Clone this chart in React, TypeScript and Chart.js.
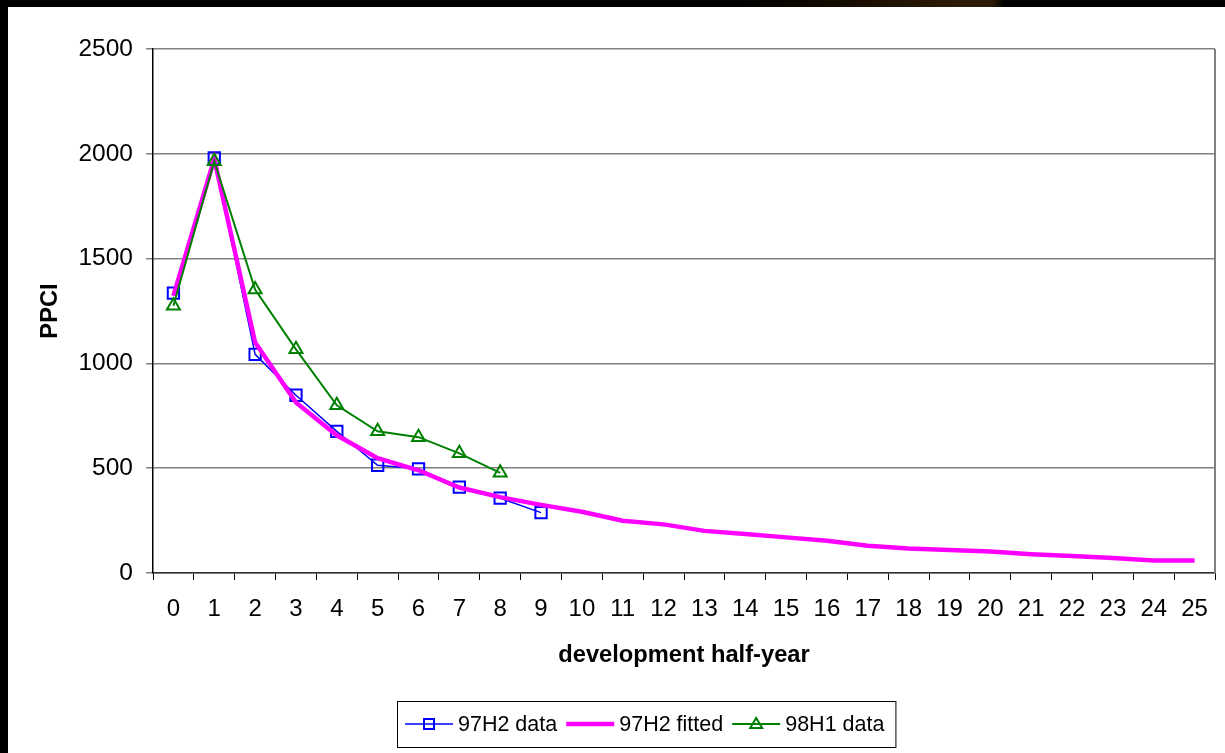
import React, { useEffect, useRef } from 'react';
import { Chart, registerables } from 'chart.js';

Chart.register(...registerables);

const categories = ['0', '1', '2', '3', '4', '5', '6', '7', '8', '9', '10', '11', '12', '13', '14', '15', '16', '17', '18', '19', '20', '21', '22', '23', '24', '25'];
const data97H2 = [1335, 1980, 1043, 848, 676, 514, 497, 410, 357, 288];
const fitted97H2 = [1322, 1975, 1100, 814, 657, 548, 490, 408, 362, 325, 292, 249, 232, 201, 186, 170, 154, 130, 117, 110, 103, 90, 81, 71, 60, 60];
const data98H1 = [1275, 1965, 1352, 1067, 800, 676, 648, 571, 478];
const seriesLabels = ['97H2 data', '97H2 fitted', '98H1 data'];
const yMin = 0;
const yMax = 2500;
const yStep = 500;

const FONT = '"Liberation Sans", Arial, sans-serif';

const drawMarker = (ctx: CanvasRenderingContext2D, style: string, x: number, y: number, color: string) => {
  ctx.save();
  ctx.strokeStyle = color;
  ctx.lineWidth = 2;
  ctx.beginPath();
  if (style === 'rect') {
    ctx.rect(x - 5, y - 5, 10, 10);
  } else if (style === 'triangle') {
    ctx.moveTo(x, y - 6);
    ctx.lineTo(x + 6, y + 4);
    ctx.lineTo(x - 6, y + 4);
    ctx.closePath();
  }
  ctx.stroke();
  ctx.restore();
};

const framePlugin = {
  id: 'frameAndLegend',
  beforeDatasetsDraw(chart: any) {
    const { ctx, chartArea } = chart;
    ctx.save();
    ctx.strokeStyle = '#808080';
    ctx.lineWidth = 2;
    ctx.beginPath();
    ctx.moveTo(chartArea.right, chartArea.top);
    ctx.lineTo(chartArea.right, chartArea.bottom);
    ctx.stroke();
    ctx.restore();
  },
  afterDraw(chart: any) {
    const ctx: CanvasRenderingContext2D = chart.ctx;
    const boxL = 389;
    const boxT = 694;
    const boxH = 46;
    ctx.save();
    ctx.font = `21.5px ${FONT}`;
    ctx.textBaseline = 'middle';
    ctx.textAlign = 'left';
    const items = chart.data.datasets.map((ds: any) => ({
      label: ds.label,
      color: ds.borderColor,
      width: ds.borderWidth,
      style: ds.pointRadius > 0 ? ds.pointStyle : null,
    }));
    let x = boxL + 8;
    const cy = boxT + boxH / 2;
    const positions: number[] = [];
    items.forEach((it: any) => {
      positions.push(x);
      x += 53 + ctx.measureText(it.label).width + 9;
    });
    const boxW = x - boxL + 2;
    ctx.fillStyle = '#fff';
    ctx.fillRect(boxL, boxT, boxW, boxH);
    ctx.strokeStyle = '#000';
    ctx.lineWidth = 1;
    ctx.strokeRect(boxL + 0.5, boxT + 0.5, boxW, boxH);
    items.forEach((it: any, i: number) => {
      const lx = positions[i];
      ctx.strokeStyle = it.color;
      ctx.lineWidth = it.width;
      ctx.beginPath();
      ctx.moveTo(lx, cy);
      ctx.lineTo(lx + 48, cy);
      ctx.stroke();
      if (it.style) drawMarker(ctx, it.style, lx + 24, cy, it.color);
      ctx.fillStyle = '#000';
      ctx.fillText(it.label, lx + 53, cy + 1);
    });
    ctx.restore();
  },
};

export default function App() {
  const canvasRef = useRef<HTMLCanvasElement | null>(null);

  useEffect(() => {
    if (!canvasRef.current) return;
    const chart = new Chart(canvasRef.current, {
      type: 'line',
      data: {
        labels: categories,
        datasets: [
          {
            label: seriesLabels[0],
            data: data97H2,
            borderColor: '#0000FF',
            borderWidth: 1.5,
            pointStyle: 'rect',
            pointRadius: 8,
            pointBorderWidth: 2,
            pointBorderColor: '#0000FF',
            pointBackgroundColor: 'rgba(0,0,0,0)',
            tension: 0,
            fill: false,
            order: 3,
          },
          {
            label: seriesLabels[1],
            data: fitted97H2,
            borderColor: '#FF00FF',
            borderWidth: 4.5,
            pointRadius: 0,
            tension: 0,
            fill: false,
            order: 2,
          },
          {
            label: seriesLabels[2],
            data: data98H1,
            borderColor: '#008000',
            borderWidth: 2,
            pointStyle: 'triangle',
            pointRadius: 7.5,
            pointBorderWidth: 2,
            pointBorderColor: '#008000',
            pointBackgroundColor: 'rgba(0,0,0,0)',
            tension: 0,
            fill: false,
            order: 1,
          },
        ],
      },
      options: {
        responsive: false,
        animation: false,
        devicePixelRatio: 1,
        layout: { padding: { left: 0, right: 8, top: 42, bottom: 83.6 } },
        plugins: {
          legend: { display: false },
          tooltip: { enabled: false },
        },
        scales: {
          x: {
            type: 'category',
            offset: true,
            grid: {
              offset: true,
              drawOnChartArea: false,
              drawTicks: true,
              tickLength: 7,
              color: '#000',
              lineWidth: 1,
            },
            border: { display: true, color: '#333', width: 1.5 },
            ticks: {
              color: '#000',
              font: { family: FONT, size: 24 },
              padding: 15,
              maxRotation: 0,
              autoSkip: false,
            },
            title: {
              display: true,
              text: 'development half-year',
              color: '#000',
              font: { family: FONT, size: 23.7, weight: 'bold' },
              padding: { top: 0, bottom: 0 },
            },
            afterFit: (scale: any) => {
              scale.height = 96.4;
            },
          },
          y: {
            min: yMin,
            max: yMax,
            ticks: {
              stepSize: yStep,
              color: '#000',
              font: { family: FONT, size: 24.5 },
              padding: 13,
              callback: (v: any) => String(v),
            },
            grid: {
              color: '#808080',
              lineWidth: 1.5,
              tickLength: 7,
            },
            border: { display: true, color: '#000', width: 1.5 },
            title: {
              display: true,
              text: 'PPCI',
              color: '#000',
              font: { family: FONT, size: 23.7, weight: 'bold' },
              padding: { top: 28.6, bottom: 0 },
            },
            afterFit: (scale: any) => {
              scale.width = 145;
            },
          },
        },
      },
      plugins: [framePlugin],
    });
    return () => chart.destroy();
  }, []);

  return (
    <div
      style={{
        position: 'fixed',
        inset: 0,
        background: 'linear-gradient(90deg, #000 0%, #000 60%, #140a00 68%, #2b1a06 78%, #2b1a06 81%, #000 82%, #000 100%)',
      }}
    >
      <div style={{ position: 'absolute', left: 8, top: 7, width: 1217, height: 746, background: '#fff' }}>
        <canvas ref={canvasRef} width={1217} height={746} style={{ display: 'block' }} />
      </div>
    </div>
  );
}
